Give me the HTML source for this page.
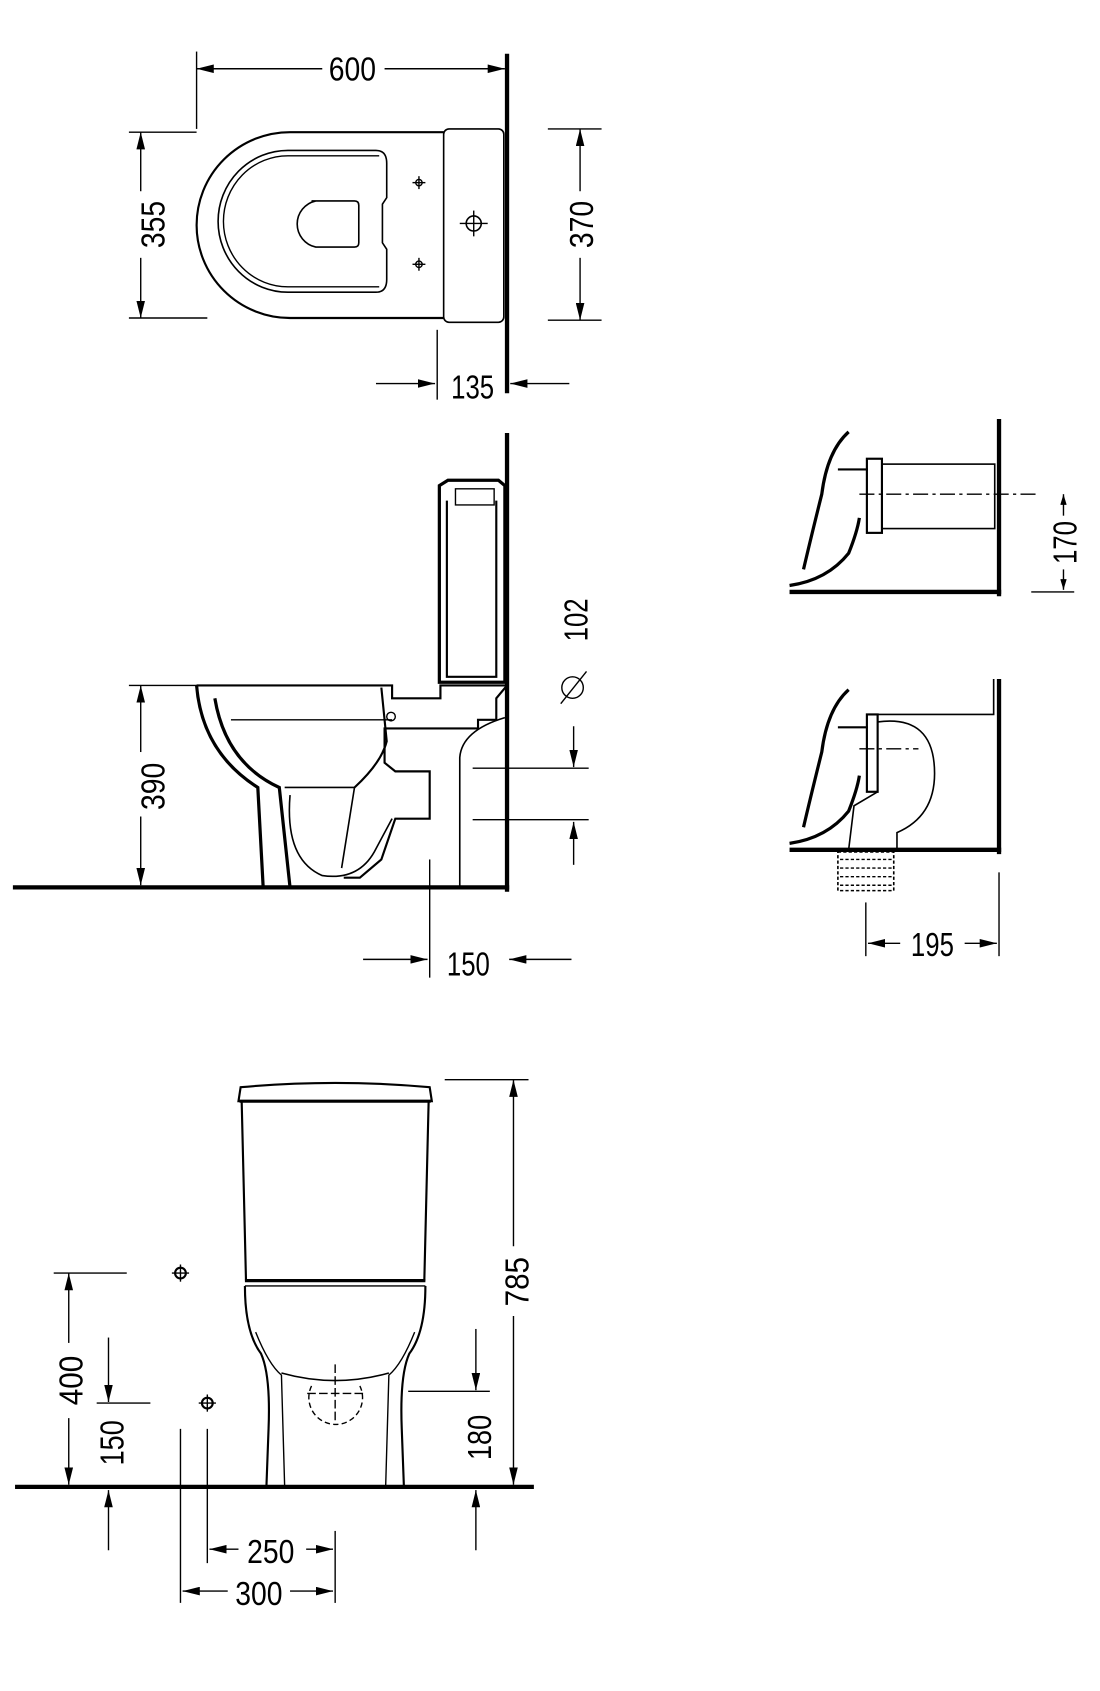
<!DOCTYPE html>
<html><head><meta charset="utf-8"><style>html,body{margin:0;padding:0;background:#fff}svg{display:block}text{font-family:"Liberation Sans",sans-serif;font-size:31px;fill:#000}</style></head><body>
<svg width="1100" height="1691" viewBox="0 0 1024 1574" preserveAspectRatio="none" xmlns="http://www.w3.org/2000/svg">
<defs><marker id="a" viewBox="0 0 10 6" refX="10" refY="3" markerWidth="10" markerHeight="6" orient="auto" markerUnits="userSpaceOnUse"><path d="M0,0L10,3L0,6z" fill="#000"/></marker>
<marker id="b" viewBox="0 0 16 8" refX="16" refY="4" markerWidth="16" markerHeight="8" orient="auto" markerUnits="userSpaceOnUse"><path d="M0,0L16,4L0,8z" fill="#000"/></marker></defs>
<g fill="none" stroke="#000" stroke-width="1.3">
<line x1="472" y1="50" x2="472" y2="366" stroke-width="4"/>
<line x1="183" y1="48" x2="183" y2="120"/>
<line x1="300" y1="64" x2="183" y2="64" marker-end="url(#b)"/><line x1="358" y1="64" x2="470" y2="64" marker-end="url(#b)"/>
<path d="M413,123H270A87,86.5 0 0 0 270,296H413" stroke-width="2"/>
<path d="M350,140H268A65,66 0 0 0 268,272H350Q360,272 360,260V232L356,226V190L360,184V152Q360,140 350,140Z" stroke-width="1.5"/>
<path d="M353,145H268A60,61 0 0 0 268,267H353" />
<path d="M290,187H330Q334,187 334,191V226Q334,230 330,230H294A22,22 0 0 1 294,187Z" stroke-width="1.5"/>
<rect x="413" y="120" width="56" height="180" rx="5" stroke-width="1.5"/>
<circle cx="441" cy="208" r="7" stroke-width="1.5"/><line x1="428" y1="208" x2="454" y2="208"/><line x1="441" y1="196" x2="441" y2="220"/>
<circle cx="390" cy="170" r="3"/><line x1="384" y1="170" x2="396" y2="170"/><line x1="390" y1="164" x2="390" y2="176"/>
<circle cx="390" cy="246" r="3"/><line x1="384" y1="246" x2="396" y2="246"/><line x1="390" y1="240" x2="390" y2="252"/>
<line x1="120" y1="123" x2="183" y2="123"/><line x1="120" y1="296" x2="193" y2="296"/>
<line x1="131" y1="178" x2="131" y2="123" marker-end="url(#b)"/><line x1="131" y1="240" x2="131" y2="296" marker-end="url(#b)"/>
<line x1="510" y1="120" x2="560" y2="120"/><line x1="510" y1="298" x2="560" y2="298"/>
<line x1="540" y1="178" x2="540" y2="120" marker-end="url(#b)"/><line x1="540" y1="240" x2="540" y2="298" marker-end="url(#b)"/>
<line x1="407" y1="307" x2="407" y2="372"/>
<line x1="350" y1="357" x2="405" y2="357" marker-end="url(#b)"/><line x1="530" y1="357" x2="475" y2="357" marker-end="url(#b)"/>
<line x1="472" y1="403" x2="472" y2="830" stroke-width="4"/>
<line x1="12" y1="826" x2="474" y2="826" stroke-width="4"/>
<path d="M409,452L417,447H464L470,452V635H409Z" stroke-width="3"/>
<path d="M416,466V630H462V466" stroke-width="2"/>
<path d="M424,455H460V470H424Z" />
<path d="M183,638H365V650H410V638H472M472,638L462,650V670H445V678H358V710L368,718H400V762H368L355,800L335,817H320" stroke-width="2"/>
<path d="M183,638Q188,700 240,733L245,826M200,650Q210,710 260,733L270,826" stroke-width="3"/>
<path d="M265,733H330L318,808M270,740Q265,800 300,815Q335,820 350,790L365,762" stroke-width="1.5"/>
<path d="M355,640L360,690Q355,710 330,733" stroke-width="2"/>
<line x1="215" y1="670" x2="365" y2="670"/><circle cx="364" cy="667" r="4"/>
<path d="M428,826V705Q430,680 470,668" stroke-width="1.5"/>
<line x1="120" y1="638" x2="190" y2="638"/>
<line x1="131" y1="700" x2="131" y2="638" marker-end="url(#b)"/><line x1="131" y1="760" x2="131" y2="824" marker-end="url(#b)"/>
<line x1="400" y1="800" x2="400" y2="910"/>
<line x1="338" y1="893" x2="398" y2="893" marker-end="url(#b)"/><line x1="532" y1="893" x2="474" y2="893" marker-end="url(#b)"/>
<line x1="440" y1="715" x2="548" y2="715"/><line x1="440" y1="763" x2="548" y2="763"/>
<line x1="534" y1="676" x2="534" y2="714" marker-end="url(#b)"/><line x1="534" y1="805" x2="534" y2="765" marker-end="url(#b)"/>
<circle cx="533" cy="640" r="10"/><line x1="522" y1="655" x2="546" y2="625"/>
<line x1="930" y1="390" x2="930" y2="555" stroke-width="4"/>
<line x1="735" y1="551" x2="932" y2="551" stroke-width="4"/>
<path d="M790,402Q770,420 765,460Q755,500 748,530" stroke-width="3"/>
<path d="M735,545Q770,540 790,515Q798,495 800,482" stroke-width="3"/>
<line x1="780" y1="437" x2="808" y2="437" stroke-width="2"/>
<rect x="807" y="427" width="14" height="69" stroke-width="2"/>
<rect x="821" y="432" width="105" height="60" stroke-width="1.5"/>
<line x1="800" y1="460" x2="968" y2="460" stroke-dasharray="14,4,3,4"/>
<line x1="960" y1="551" x2="1000" y2="551"/>
<line x1="990" y1="480" x2="990" y2="460" marker-end="url(#a)"/><line x1="990" y1="530" x2="990" y2="549" marker-end="url(#a)"/>
<line x1="930" y1="632" x2="930" y2="795" stroke-width="4"/>
<line x1="735" y1="791" x2="932" y2="791" stroke-width="4"/>
<path d="M790,642Q770,660 765,700Q755,740 748,770" stroke-width="3"/>
<path d="M735,785Q770,780 790,755Q798,735 800,722" stroke-width="3"/>
<line x1="780" y1="677" x2="808" y2="677" stroke-width="2"/>
<rect x="807" y="665" width="10" height="72" stroke-width="2"/>
<path d="M817,670V665H925V632M817,672Q870,665 870,720Q870,760 835,775V791M817,737L795,750L790,791" stroke-width="1.5"/>
<line x1="800" y1="697" x2="855" y2="697" stroke-dasharray="14,4,3,4"/>
<rect x="780" y="793" width="52" height="36" stroke-width="1.5" stroke-dasharray="3,2"/>
<line x1="782" y1="800" x2="830" y2="800" stroke-dasharray="3,2"/><line x1="782" y1="808" x2="830" y2="808" stroke-dasharray="3,2"/><line x1="782" y1="816" x2="830" y2="816" stroke-dasharray="3,2"/><line x1="782" y1="824" x2="830" y2="824" stroke-dasharray="3,2"/>
<line x1="806" y1="840" x2="806" y2="890"/><line x1="930" y1="812" x2="930" y2="890"/>
<line x1="838" y1="878" x2="808" y2="878" marker-end="url(#b)"/><line x1="898" y1="878" x2="928" y2="878" marker-end="url(#b)"/>
<line x1="14" y1="1384" x2="497" y2="1384" stroke-width="4"/>
<path d="M224,1012Q312,1004 400,1012L402,1025H222Z" stroke-width="2"/>
<line x1="223" y1="1025" x2="401" y2="1025" stroke-width="3"/>
<path d="M225,1026L229,1192M399,1026L395,1192" stroke-width="2"/>
<line x1="228" y1="1192" x2="396" y2="1192" stroke-width="3"/><line x1="228" y1="1197" x2="396" y2="1197"/>
<path d="M228,1197Q228,1240 243,1260Q252,1280 250,1330L248,1384M396,1197Q396,1240 381,1260Q372,1280 374,1330L376,1384" stroke-width="2"/>
<path d="M238,1240Q250,1270 262,1280L265,1384M386,1240Q374,1270 362,1280L359,1384" />
<path d="M262,1278Q312,1292 362,1278" stroke-width="1.5"/>
<path d="M290,1290A25,25 0 1 0 335,1290" stroke-dasharray="5,3"/>
<line x1="286" y1="1297" x2="338" y2="1297" stroke-dasharray="8,3"/><line x1="312" y1="1270" x2="312" y2="1323" stroke-dasharray="8,3"/>
<circle cx="168" cy="1185" r="5" stroke-width="2"/><line x1="160" y1="1185" x2="176" y2="1185"/><line x1="168" y1="1177" x2="168" y2="1193"/>
<circle cx="193" cy="1306" r="5" stroke-width="2"/><line x1="185" y1="1306" x2="201" y2="1306"/><line x1="193" y1="1298" x2="193" y2="1314"/>
<line x1="414" y1="1005" x2="492" y2="1005"/>
<line x1="478" y1="1160" x2="478" y2="1005" marker-end="url(#b)"/><line x1="478" y1="1225" x2="478" y2="1382" marker-end="url(#b)"/>
<line x1="50" y1="1185" x2="118" y2="1185"/>
<line x1="64" y1="1250" x2="64" y2="1185" marker-end="url(#b)"/><line x1="64" y1="1320" x2="64" y2="1382" marker-end="url(#b)"/>
<line x1="90" y1="1306" x2="140" y2="1306"/>
<line x1="101" y1="1245" x2="101" y2="1305" marker-end="url(#b)"/><line x1="101" y1="1443" x2="101" y2="1387" marker-end="url(#b)"/>
<line x1="380" y1="1295" x2="456" y2="1295"/>
<line x1="443" y1="1237" x2="443" y2="1294" marker-end="url(#b)"/><line x1="443" y1="1443" x2="443" y2="1387" marker-end="url(#b)"/>
<line x1="193" y1="1330" x2="193" y2="1455"/><line x1="168" y1="1330" x2="168" y2="1492"/><line x1="312" y1="1425" x2="312" y2="1492"/>
<line x1="222" y1="1442" x2="195" y2="1442" marker-end="url(#b)"/><line x1="285" y1="1442" x2="310" y2="1442" marker-end="url(#b)"/>
<line x1="212" y1="1481" x2="170" y2="1481" marker-end="url(#b)"/><line x1="270" y1="1481" x2="310" y2="1481" marker-end="url(#b)"/>
</g>
<g>
<text x="328" y="75" text-anchor="middle" textLength="44" lengthAdjust="spacingAndGlyphs">600</text>
<text x="440" y="371" text-anchor="middle" textLength="40" lengthAdjust="spacingAndGlyphs">135</text>
<text x="436" y="908" text-anchor="middle" textLength="40" lengthAdjust="spacingAndGlyphs">150</text>
<text x="868" y="890" text-anchor="middle" textLength="40" lengthAdjust="spacingAndGlyphs">195</text>
<text x="252" y="1455" text-anchor="middle" textLength="44" lengthAdjust="spacingAndGlyphs">250</text>
<text x="241" y="1494" text-anchor="middle" textLength="44" lengthAdjust="spacingAndGlyphs">300</text>
<text transform="translate(153,209) rotate(-90)" text-anchor="middle" textLength="44" lengthAdjust="spacingAndGlyphs">355</text>
<text transform="translate(552,209) rotate(-90)" text-anchor="middle" textLength="44" lengthAdjust="spacingAndGlyphs">370</text>
<text transform="translate(153,732) rotate(-90)" text-anchor="middle" textLength="44" lengthAdjust="spacingAndGlyphs">390</text>
<text transform="translate(547,577) rotate(-90)" text-anchor="middle" textLength="40" lengthAdjust="spacingAndGlyphs">102</text>
<text transform="translate(1002,505) rotate(-90)" text-anchor="middle" textLength="40" lengthAdjust="spacingAndGlyphs">170</text>
<text transform="translate(492,1193) rotate(-90)" text-anchor="middle" textLength="46" lengthAdjust="spacingAndGlyphs">785</text>
<text transform="translate(77,1285) rotate(-90)" text-anchor="middle" textLength="46" lengthAdjust="spacingAndGlyphs">400</text>
<text transform="translate(115,1343) rotate(-90)" text-anchor="middle" textLength="42" lengthAdjust="spacingAndGlyphs">150</text>
<text transform="translate(457,1338) rotate(-90)" text-anchor="middle" textLength="42" lengthAdjust="spacingAndGlyphs">180</text>
</g>
</svg>
</body></html>
